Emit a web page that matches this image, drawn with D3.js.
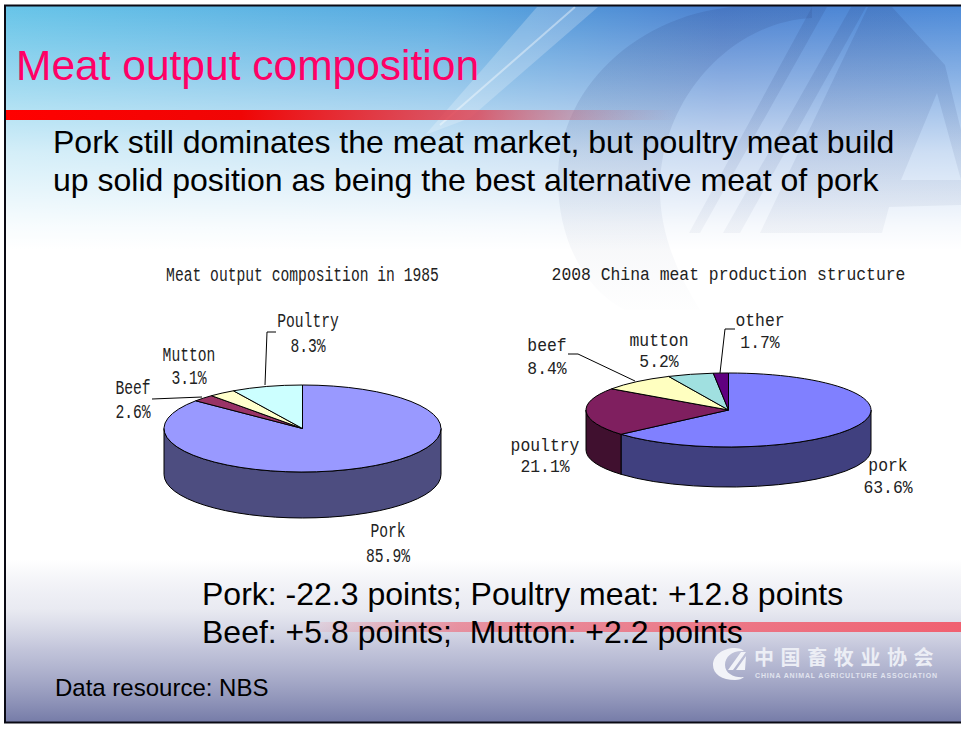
<!DOCTYPE html>
<html>
<head>
<meta charset="utf-8">
<script src="https://cdn.jsdelivr.net/npm/d3@7"></script>
<style>
    html, body { margin: 0; padding: 0; background: #fff; }
    svg { display: block; }
    text { font-family: "Liberation Sans", Arial, sans-serif; }
    .pie-label { font-family: "Liberation Mono", monospace; fill: #222; text-anchor: middle; }
</style>
</head>
<body>
<div id="chart"></div>
<script>
// Chart data
const names1985 = ["Pork", "Beef", "Mutton", "Poultry"];
const values1985 = [85.9, 2.6, 3.1, 8.3];
const colors1985 = ["#9999ff", "#993366", "#ffffcc", "#ccffff"];
const sides1985 = ["#4d4d80", "#4d1a33", "#808066", "#668080"];

const names2008 = ["pork", "poultry", "beef", "mutton", "other"];
const values2008 = [63.6, 21.1, 8.4, 5.2, 1.7];
const colors2008 = ["#8080ff", "#7f1f5f", "#ffffc0", "#a0e0e0", "#600080"];
const sides2008 = ["#40407f", "#40102f", "#808060", "#607070", "#300040"];

const title1985 = "Meat output composition in 1985";
const title2008 = "2008 China meat production structure";

const width = 961, height = 731;

const svg = d3.select("#chart").append("svg")
    .attr("width", width)
    .attr("height", height);

// Gradients for the slide background
const defs = svg.append("defs");

function addGradient(id, x2, y2, stops) {
    const g = defs.append("linearGradient").attr("id", id)
        .attr("x1", 0).attr("y1", 0).attr("x2", x2).attr("y2", y2);
    stops.forEach(s => g.append("stop")
        .attr("offset", s[0]).attr("stop-color", s[1]).attr("stop-opacity", s[2]));
    return g;
}

addGradient("blue", 1, 0, [[0, "#66c4e8", 1], [0.45, "#56a8e0", 1], [0.75, "#4a80d0", 1], [1, "#4c8ad8", 1]]);
addGradient("fade", 0, 1, [[0, "#fff", 0], [0.3, "#fff", 0.35], [0.6, "#fff", 0.72], [0.9, "#fff", 0.95], [1, "#fff", 1]]);
addGradient("dusk", 0, 1, [[0, "#8a8fb8", 0], [0.3, "#a8acca", 0.25], [0.55, "#9a9ec2", 0.6], [1, "#767ca8", 1]]);
addGradient("redTop", 1, 0, [[0, "#f00", 1], [0.35, "#f00505", 1], [0.7, "#e04050", 0.8], [1, "#c08090", 0]]);
addGradient("redBottom", 1, 0, [[0, "#f06070", 0], [0.25, "#f06070", 0.6], [1, "#f06070", 1]]);
addGradient("markFade", 0, 1, [[0, "#304c8c", 0.2], [0.5, "#40568c", 0.1], [0.75, "#607098", 0.06], [1, "#8090a8", 0.01]])
    .attr("gradientUnits", "userSpaceOnUse")
    .attr("y1", 5).attr("x2", 0).attr("y2", 310);

const bg = svg.append("g");
bg.append("rect").attr("x", 5).attr("y", 5).attr("width", 956).attr("height", 245).attr("fill", "url(#blue)");

// Light streak in the top band
bg.append("path")
    .attr("fill", "#fff").attr("fill-opacity", 0.22)
    .attr("d", "M598 7L537 7L425 135L470 118Z");
bg.append("path")
    .attr("fill", "none").attr("stroke", "#fff").attr("stroke-opacity", 0.4).attr("stroke-width", 2)
    .attr("d", "M575 7L440 125");

bg.append("rect").attr("x", 5).attr("y", 5).attr("width", 956).attr("height", 245).attr("fill", "url(#fade)");
bg.append("rect").attr("x", 5).attr("y", 250).attr("width", 956).attr("height", 320).attr("fill", "#fff");
bg.append("rect").attr("x", 5).attr("y", 560).attr("width", 956).attr("height", 162).attr("fill", "url(#dusk)");

// Logo watermark
const mark = bg.append("g").attr("fill", "url(#markFade)");
mark.append("path")
    .attr("d", "M752 6C650 6 558 80 558 180C558 240 585 290 625 310L700 310C675 270 660 230 660 190C660 100 730 22 812 18L812 6Z");
mark.append("path").attr("d", "M812 7L827 7L700 233L689 233Z");
mark.append("path").attr("d", "M851 7L866 7L740 233L723 233Z");
mark.append("path").attr("d", "M868 7L892 7L945 65L961 130L961 180L937 93L901 180L961 180L961 205L889 207L882 233L760 233Z");

// Red bars
bg.append("rect").attr("x", 5).attr("y", 110).attr("width", 675).attr("height", 10).attr("fill", "url(#redTop)");
bg.append("rect").attr("x", 290).attr("y", 622).attr("width", 671).attr("height", 10).attr("fill", "url(#redBottom)");

// Slide frame
bg.append("path").attr("fill", "none").attr("stroke", "#0a0a14").attr("stroke-width", 2)
    .attr("d", "M961 5.5H5V722.5H961");

// Slide text
function slideText(str, x, y, size, fill) {
    svg.append("text").attr("x", x).attr("y", y)
        .attr("xml:space", "preserve")
        .style("white-space", "pre")
        .style("font-size", size + "px")
        .attr("fill", fill)
        .text(str);
}
slideText("Meat output composition", 16, 80, 42.5, "#ff0066");
slideText("Pork still dominates the meat market, but poultry meat build", 53, 153, 32, "#000");
slideText("up solid position as being the best alternative meat of pork", 53, 191, 32, "#000");
slideText("Pork: -22.3 points; Poultry meat: +12.8 points", 202, 605, 32, "#000");
slideText("Beef: +5.8 points;  Mutton: +2.2 points", 202, 643, 32, "#000");
slideText("Data resource: NBS", 55, 696, 24, "#000");

// Draws an extruded pie: top face from d3.pie/d3.arc, the wall below it
function drawPie(cfg) {
    const g = svg.append("g");
    const pie = d3.pie().sort(null).value(d => d.value);
    const slices = pie(cfg.names.map((n, i) => ({
        name: n, value: cfg.values[i], color: cfg.colors[i], side: cfg.sides[i]
    })));

    // wall is only visible on the front half of the ellipse
    const px = a => cfg.cx + cfg.rx * Math.sin(a);
    const py = a => cfg.cy - cfg.ry * Math.cos(a);
    g.selectAll("path.side")
        .data(slices.filter(d => d.endAngle > Math.PI / 2 && d.startAngle < 3 * Math.PI / 2))
        .enter().append("path")
            .attr("class", "side")
            .attr("fill", d => d.data.side)
            .attr("stroke", "#000")
            .attr("d", d => {
                const a0 = Math.max(d.startAngle, Math.PI / 2);
                const a1 = Math.min(d.endAngle, 3 * Math.PI / 2);
                return `M${px(a0)} ${py(a0)}A${cfg.rx} ${cfg.ry} 0 0 1 ${px(a1)} ${py(a1)}` +
                    `L${px(a1)} ${py(a1) + cfg.depth}A${cfg.rx} ${cfg.ry} 0 0 0 ${px(a0)} ${py(a0) + cfg.depth}Z`;
            });

    const arc = d3.arc().innerRadius(0).outerRadius(cfg.rx);
    g.append("g")
        .attr("transform", `translate(${cfg.cx},${cfg.cy}) scale(1,${cfg.ry / cfg.rx})`)
        .selectAll("path")
        .data(slices)
        .enter().append("path")
            .attr("d", arc)
            .attr("fill", d => d.data.color)
            .attr("stroke", "#000")
            .attr("vector-effect", "non-scaling-stroke");

    // leader lines
    g.selectAll("path.leader")
        .data(cfg.leaders)
        .enter().append("path")
            .attr("class", "leader")
            .attr("fill", "none")
            .attr("stroke", "#000")
            .attr("d", d3.line());

    // narrow tall labels, squeezed to the character advance of the slide font
    function label(str, x, y) {
        g.append("text").attr("class", "pie-label")
            .attr("x", x).attr("y", y)
            .attr("textLength", str.length * cfg.advance)
            .attr("lengthAdjust", "spacingAndGlyphs")
            .style("font-size", cfg.font + "px")
            .text(str);
    }

    label(cfg.title, cfg.cx, cfg.titleY);
    cfg.names.forEach((n, i) => {
        const pos = cfg.labels[i];
        label(n, pos[0], pos[1]);
        label(cfg.values[i].toFixed(1) + "%", pos[0], pos[1] + pos[2]);
    });
}

drawPie({
    cx: 302.5, cy: 428.5, rx: 138.5, ry: 43.5, depth: 46, font: 19.5, advance: 8.8, titleY: 281,
    names: names1985, values: values1985, colors: colors1985, sides: sides1985,
    title: title1985,
    labels: [[388, 537, 24.5], [133, 394, 24], [189, 361, 23], [308, 327, 24.5]],
    leaders: [
        [[152, 399], [202, 397]],
        [[265, 385], [267, 332], [276, 332]]
    ]
});

drawPie({
    cx: 728.5, cy: 410, rx: 142.5, ry: 37, depth: 40, font: 18, advance: 9.83, titleY: 280,
    names: names2008, values: values2008, colors: colors2008, sides: sides2008,
    title: title2008,
    labels: [[888, 471, 22], [545, 451, 21], [547, 351, 23], [659, 346, 21], [760, 326, 22]],
    leaders: [
        [[568, 354], [578, 354], [635, 381]],
        [[720, 373], [725, 329], [735, 329]]
    ]
});

// Association logo, bottom right
const logo = svg.append("g");
logo.append("path")
    .attr("fill", "#f2f3f8")
    .attr("d", "M735 648C722 648 713 656 713 665C713 674 722 680 735 680C739 680 742 679 744 677C735 678 725 674 725 665C725 656 733 650 744 651C742 649 739 648 735 648Z");
logo.append("path")
    .attr("fill", "#f2f3f8")
    .attr("d", "M741 652L746 652L733 670L728 670ZM746 656L745 670L736 670Z");
logo.append("text")
    .attr("x", 754).attr("y", 665)
    .style("font-family", '"Noto Sans CJK SC"')
    .style("font-weight", "bold")
    .style("font-size", "20px")
    .style("letter-spacing", "6.6px")
    .attr("fill", "#eceef5")
    .text("中国畜牧业协会");
logo.append("text")
    .attr("x", 755).attr("y", 678)
    .style("font-size", "7px")
    .style("font-weight", "bold")
    .attr("fill", "#e0e3ee")
    .attr("textLength", 182)
    .text("CHINA ANIMAL AGRICULTURE ASSOCIATION");
</script>
</body>
</html>
